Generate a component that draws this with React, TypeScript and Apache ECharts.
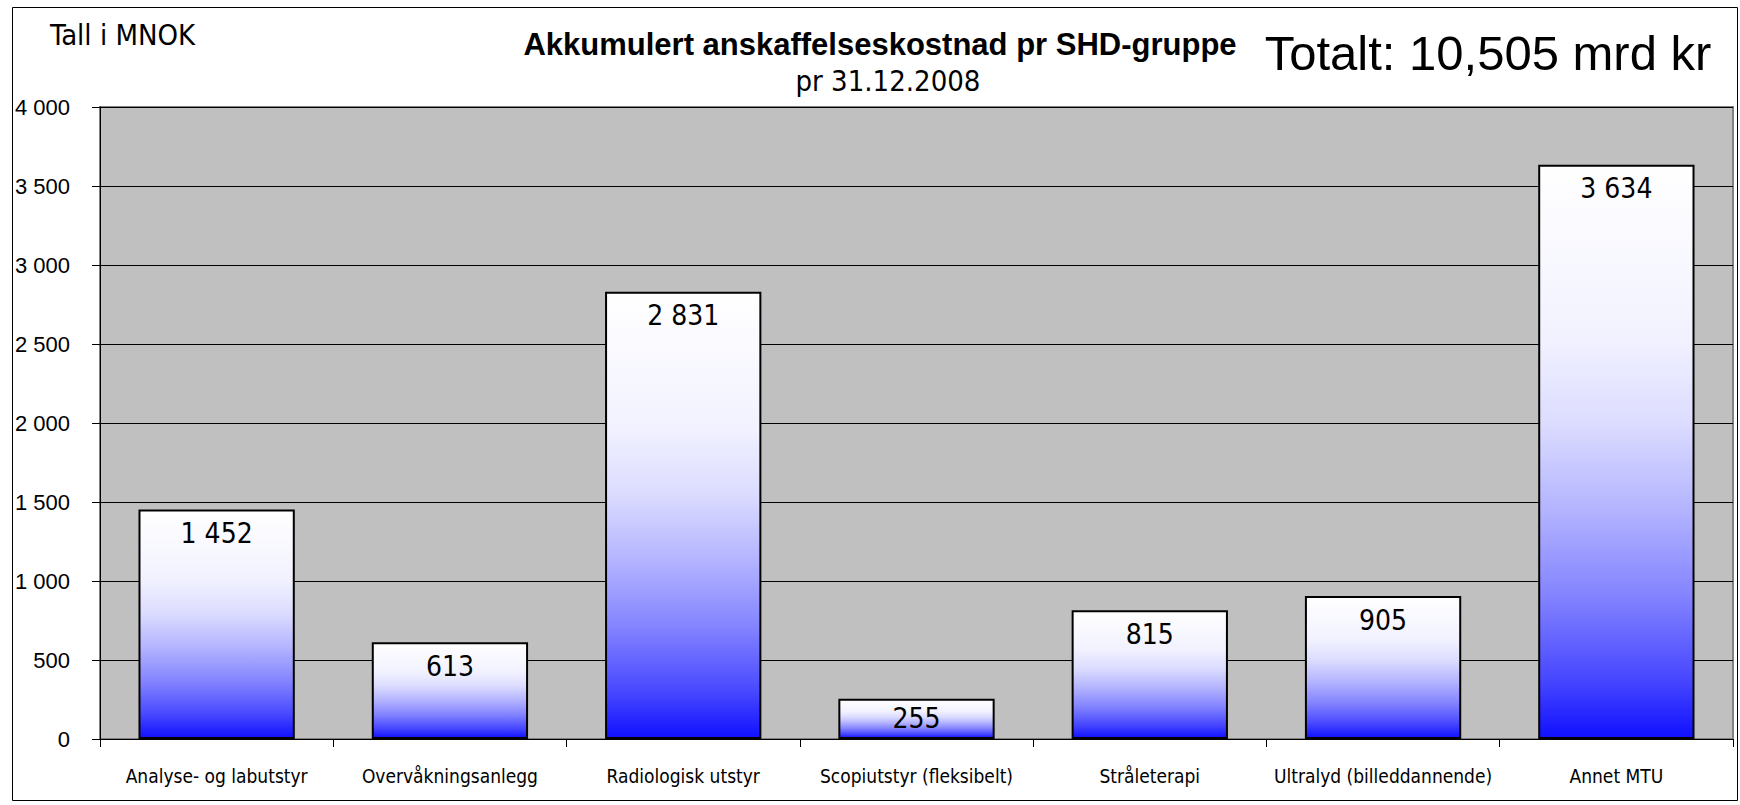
import React, { useEffect, useRef } from "react";
import * as echarts from "echarts";

const categories = [
  "Analyse- og labutstyr",
  "Overvåkningsanlegg",
  "Radiologisk utstyr",
  "Scopiutstyr (fleksibelt)",
  "Stråleterapi",
  "Ultralyd (billeddannende)",
  "Annet MTU",
];
const values = [1452, 613, 2831, 255, 815, 905, 3634];
const yTicks = { min: 0, max: 4000, interval: 500 };
const titleText = "Akkumulert anskaffelseskostnad pr SHD-gruppe";
const subtitleText = "pr 31.12.2008";
const totalText = "Totalt: 10,505 mrd kr";
const unitText = "Tall i MNOK";

const NARROW = "'Liberation Sans Narrow', 'Arial Narrow', 'DejaVu Sans Condensed', sans-serif";
const ARIAL = "'Liberation Sans', Arial, sans-serif";

const fmt = (v: number) => String(v).replace(/\B(?=(\d{3})+(?!\d))/g, " ");

export default function App() {
  const ref = useRef<HTMLDivElement>(null);
  useEffect(() => {
    document.body.style.margin = "0";
    const chart = echarts.init(ref.current!, null, { renderer: "svg" });
    const gradient = new echarts.graphic.LinearGradient(0, 0, 0, 1, [
      { offset: 0, color: "#FFFFFF" },
      { offset: 0.3, color: "#F2F2FF" },
      { offset: 0.45, color: "#DCDCFF" },
      { offset: 0.6, color: "#B4B4FF" },
      { offset: 0.75, color: "#8484FF" },
      { offset: 0.9, color: "#4646FF" },
      { offset: 1, color: "#1010FF" },
    ]);
    chart.setOption({
      animation: false,
      backgroundColor: "#FFFFFF",
      grid: {
        left: 100,
        right: 7,
        top: 107,
        bottom: 66,
        show: true,
        backgroundColor: "#C0C0C0",
        borderColor: "#808080",
        borderWidth: 2,
        containLabel: false,
      },
      xAxis: {
        type: "category",
        data: categories,
        axisLine: { show: true, lineStyle: { color: "#000000", width: 1 } },
        axisTick: { show: true, length: 8, lineStyle: { color: "#000000" } },
        axisLabel: {
          color: "#000000",
          fontFamily: NARROW,
          fontSize: 19,
          margin: 27,
          interval: 0,
        },
        splitLine: { show: false },
      },
      yAxis: {
        type: "value",
        min: yTicks.min,
        max: yTicks.max,
        interval: yTicks.interval,
        axisLine: { show: true, lineStyle: { color: "#000000", width: 1 } },
        axisTick: { show: true, length: 8, lineStyle: { color: "#000000" } },
        axisLabel: {
          color: "#000000",
          fontFamily: ARIAL,
          fontSize: 22,
          margin: 30,
          formatter: (v: number) => fmt(v),
        },
        splitLine: { show: true, lineStyle: { color: "#000000", width: 1 } },
      },
      series: [
        {
          type: "bar",
          data: values.map((v) => ({
            value: v,
            label: v < 400 ? { position: "inside" } : undefined,
          })),
          barCategoryGap: "33%",
          itemStyle: { color: gradient, borderColor: "#000000", borderWidth: 2 },
          label: {
            show: true,
            position: "insideTop",
            distance: 10,
            color: "#000000",
            fontFamily: NARROW,
            fontSize: 28,
            formatter: (p: any) => fmt(p.value),
          },
        },
      ],
      graphic: [
        {
          type: "rect",
          shape: { x: 12.5, y: 7.5, width: 1725, height: 793 },
          style: { fill: "none", stroke: "#000000", lineWidth: 1 },
          z: 100,
        },
        {
          type: "text",
          left: 50,
          top: 20,
          style: { text: unitText, fontFamily: NARROW, fontSize: 29, fill: "#000000" },
        },
        {
          type: "text",
          x: 880,
          y: 44,
          style: {
            text: titleText,
            fontFamily: ARIAL,
            fontWeight: "bold",
            fontSize: 31,
            fill: "#000000",
            align: "center",
            verticalAlign: "middle",
          },
        },
        {
          type: "text",
          x: 888,
          y: 81,
          style: {
            text: subtitleText,
            fontFamily: NARROW,
            fontSize: 29,
            fill: "#000000",
            align: "center",
            verticalAlign: "middle",
          },
        },
        {
          type: "text",
          x: 1488,
          y: 53,
          style: {
            text: totalText,
            fontFamily: ARIAL,
            fontSize: 49,
            fill: "#000000",
            align: "center",
            verticalAlign: "middle",
          },
        },
      ],
    });
    return () => chart.dispose();
  }, []);
  return (
    <div
      ref={ref}
      style={{ position: "absolute", left: 0, top: 0, width: 1740, height: 805 }}
    />
  );
}
